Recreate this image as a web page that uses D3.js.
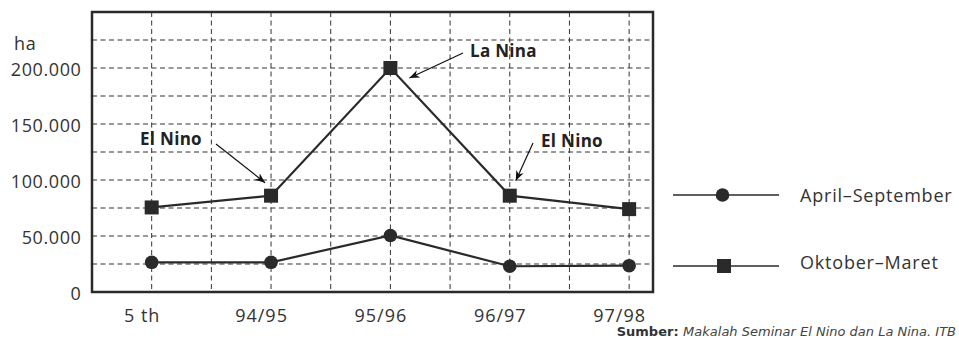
<!DOCTYPE html>
<html><head><meta charset="utf-8">
<script src="https://cdn.jsdelivr.net/npm/d3@7"></script>
<style>
body{margin:0;background:#fff;}
svg{display:block;font-family:"Open Sans",sans-serif;}
</style></head>
<body><svg id="c" width="959" height="339"></svg>
<script>
const categories = ["5 th","94/95","95/96","96/97","97/98"];
const aprSep = [26500, 26500, 50500, 23000, 23500];
const oktMar = [75500, 86000, 200000, 86000, 74000];
const yTicks = [0, 50000, 100000, 150000, 200000];
const seriesNames = ["April\u2013September","Oktober\u2013Maret"];
const annotations = [
  {text:"La Nina", cat:2, value:200000},
  {text:"El Nino", cat:1, value:86000},
  {text:"El Nino", cat:3, value:86000}
];
const sourceBold = "Sumber:";
const sourceText = "Makalah Seminar El Nino dan La Nina. ITB";

const ink = "#2a2a2a";
const txt = "#333";
const svg = d3.select("#c");
const L = 92, R = 653, T = 12, B = 292;
const x = d3.scaleLinear().domain([-0.5, 4.2]).range([L, R]);
const y = d3.scaleLinear().domain([0, 250000]).range([B, T]);
const loc = d3.formatLocale({decimal:",", thousands:".", grouping:[3], currency:["",""]});
const fmt = loc.format(",d");

// grid
const g = svg.append("g");
const hLines = d3.range(25000, 250000, 25000);
g.selectAll(".hg").data(hLines).join("line")
  .attr("x1", L).attr("x2", R).attr("y1", d=>y(d)).attr("y2", d=>y(d))
  .attr("stroke", "#333").attr("stroke-width", 1).attr("stroke-dasharray", "5,3.5");
const vLines = d3.range(0, 4.01, 0.5);
g.selectAll(".vg").data(vLines).join("line")
  .attr("y1", T).attr("y2", B).attr("x1", d=>x(d)).attr("x2", d=>x(d))
  .attr("stroke", "#333").attr("stroke-width", 1).attr("stroke-dasharray", "5,3.5");

// frame
svg.append("rect").attr("x", L).attr("y", T).attr("width", R-L).attr("height", B-T)
  .attr("fill", "none").attr("stroke", ink).attr("stroke-width", 2.5);

// y axis labels
const yAxis = d3.axisLeft(y).tickValues(yTicks).tickFormat(d=>fmt(d)).tickSize(0).tickPadding(10.5);
const ya = svg.append("g").attr("transform", `translate(${L},0)`).call(yAxis);
ya.select(".domain").remove();
ya.selectAll("text").attr("font-size", 18).attr("fill", txt).attr("dy", "0.42em")
  .attr("letter-spacing", 0.6).attr("font-family", "Open Sans, sans-serif");
svg.append("text").attr("x", 14).attr("y", 50).attr("font-size", 18).attr("fill", txt).attr("letter-spacing", 0.6).text("ha");

// x axis labels
const xAxis = d3.axisBottom(x).tickValues(d3.range(categories.length)).tickFormat(i=>categories[i]).tickSize(0).tickPadding(17);
const xa = svg.append("g").attr("transform", `translate(0,${B})`).call(xAxis);
xa.select(".domain").remove();
xa.selectAll("text").attr("font-size", 18).attr("fill", txt).attr("dx", -10).attr("letter-spacing", 1)
  .attr("font-family", "Open Sans, sans-serif");

// lines
const line = d3.line().x((d,i)=>x(i)).y(d=>y(d));
[aprSep, oktMar].forEach(s=>{
  svg.append("path").datum(s).attr("d", line).attr("fill", "none").attr("stroke", ink).attr("stroke-width", 2.2);
});
svg.selectAll(".c").data(aprSep).join("circle")
  .attr("cx", (d,i)=>x(i)).attr("cy", d=>y(d)).attr("r", 6.8).attr("fill", ink);
svg.selectAll(".s").data(oktMar).join("rect")
  .attr("x", (d,i)=>x(i)-7).attr("y", d=>y(d)-7).attr("width", 14).attr("height", 14).attr("fill", ink);

// arrows
svg.append("defs").append("marker").attr("id", "ah").attr("viewBox", "0 0 10 10")
  .attr("refX", 10).attr("refY", 5).attr("markerWidth", 10).attr("markerHeight", 10)
  .attr("markerUnits", "userSpaceOnUse").attr("orient", "auto")
  .append("path").attr("d", "M0,1 L10,5 L0,9 L3,5 Z").attr("fill", "#111");

const annoLayout = [
  {tx:470, ty:57, sx:463, sy:53, ex:19, ey:10},
  {tx:140, ty:145, sx:216, sy:144, ex:-6, ey:-13},
  {tx:541, ty:146.5, sx:533, sy:143, ex:6, ey:-15}
];
annotations.forEach((a,k)=>{
  const p = annoLayout[k];
  const px = x(a.cat), py = y(a.value);
  svg.append("line").attr("x1", p.sx).attr("y1", p.sy).attr("x2", px+p.ex).attr("y2", py+p.ey)
    .attr("stroke", "#111").attr("stroke-width", 1.2).attr("marker-end", "url(#ah)");
  svg.append("text").attr("x", p.tx).attr("y", p.ty)
    .attr("font-size", 17).attr("font-weight", "bold").attr("fill", "#222").attr("letter-spacing", 0.3).text(a.text);
});

// legend
const legY = [195, 266];
const legBase = [202, 269];
legY.forEach((ly,k)=>{
  svg.append("line").attr("x1", 673).attr("x2", 779).attr("y1", ly).attr("y2", ly).attr("stroke", ink).attr("stroke-width", 1.4);
  if(k===0) svg.append("circle").attr("cx", 722.5).attr("cy", ly).attr("r", 6.8).attr("fill", ink);
  else svg.append("rect").attr("x", 717).attr("y", ly-7).attr("width", 14).attr("height", 14).attr("fill", ink);
  svg.append("text").attr("x", 800).attr("y", legBase[k]).attr("font-size", 18).attr("fill", txt)
    .attr("letter-spacing", 0.8).text(seriesNames[k]);
});

// source
const st = svg.append("text").attr("x", 956).attr("y", 336).attr("text-anchor", "end")
  .attr("font-size", 13).attr("font-family", "DejaVu Sans, sans-serif").attr("fill", "#444");
st.append("tspan").attr("font-weight", "bold").attr("fill", "#333").text(sourceBold + " ");
st.append("tspan").attr("font-style", "italic").text(sourceText);
</script></body></html>
